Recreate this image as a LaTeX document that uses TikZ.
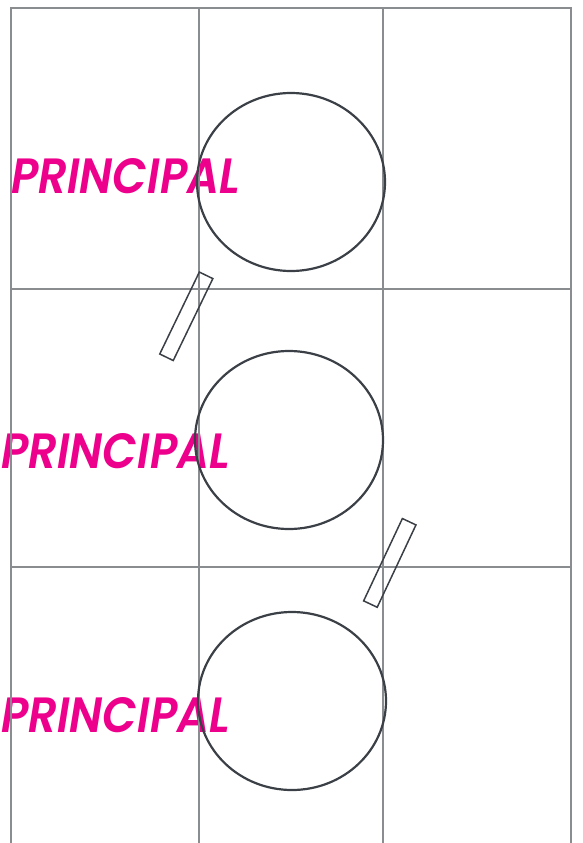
\documentclass[tikz,border=0pt]{standalone}
\usepackage{fontspec}
\newfontfamily\pfont{Poppins}[UprightFont={* SemiBold Italic}]
\usetikzlibrary{shapes.geometric}
\definecolor{mag}{HTML}{EC008C}
\definecolor{gridgray}{HTML}{8A8D90}
\definecolor{darkline}{HTML}{3B4047}
\tikzset{
  gridline/.style={draw=gridgray, line width=2.3pt},
  plate/.style={draw=darkline, line width=2.2pt, ellipse, minimum width=188pt, minimum height=178pt, inner sep=0pt},
  handle/.style={draw=darkline, line width=1.5pt, rectangle, minimum width=91pt, minimum height=15pt, inner sep=0pt},
  label/.style={text=mag, inner sep=0pt, anchor=base west}
}
\newcommand{\ptext}{\resizebox{229pt}{35pt}{\pfont PRINCIPAL}}
\begin{document}
\begin{tikzpicture}[x=1pt, y=-1pt]
\useasboundingbox (0,0) rectangle (582,843);
% labels
\node[label] (t1) at (11,193) {\ptext};
\node[label] (t2) at (1,468) {\ptext};
\node[label] (t3) at (1,732) {\ptext};
% grid
\foreach \x in {11,199,383,571} \draw[gridline] (\x,8) -- (\x,843);
\foreach \y in {8,289,567} \draw[gridline] (10,\y) -- (572,\y);
% plates
\node[plate] (c1) at (291,182) {};
\node[plate] (c2) at (289,440) {};
\node[plate] (c3) at (292,701) {};
% handles
\node[handle, rotate=64.2] (h1) at (186.3,316.3) {};
\node[handle, rotate=64.8] (h2) at (389.8,562.9) {};
\end{tikzpicture}
\end{document}
